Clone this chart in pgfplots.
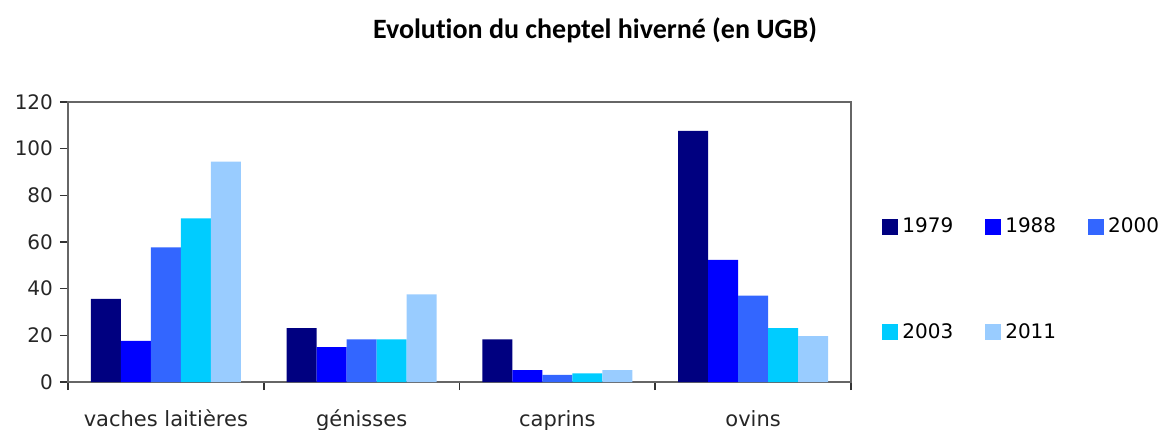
\documentclass[border=0pt]{standalone}
\usepackage{pgfplots}
\pgfplotsset{compat=1.18}
\usepackage{fontspec}
\setmainfont{DejaVu Sans}
\newfontfamily\titlefont[Ligatures=NoCommon]{Carlito}
\definecolor{c79}{HTML}{000080}
\definecolor{c88}{HTML}{0000FF}
\definecolor{c00}{HTML}{3366FF}
\definecolor{c03}{HTML}{00CCFF}
\definecolor{c11}{HTML}{99CCFF}
\definecolor{frame}{HTML}{666666}
\begin{document}
\begin{tikzpicture}
\useasboundingbox (-34pt,-23.5pt) rectangle (547.5pt,191pt);
\begin{axis}[
  scale only axis,
  width=391.5pt, height=140pt,
  ybar=0pt, bar width=0.1533,
  xmin=-0.5, xmax=3.5,
  ymin=0, ymax=120,
  ytick={0,20,...,120},
  xtick={-0.5,0.5,1.5,2.5,3.5},
  x tick label as interval,
  xticklabels={vaches laitières, génisses, caprins, ovins},
  xtick pos=bottom, ytick pos=left,
  tick align=outside,
  major tick length=4pt,
  tick style={black!80, line width=0.8pt},
  axis line style={frame, line width=0.9pt},
  tick label style={font=\fontsize{10}{12}\selectfont, text=black!85},
  /pgf/number format/assume math mode=true,
  xticklabel style={yshift=-6.5pt, font=\fontsize{10.5}{12}\selectfont},
  legend columns=3,
  legend style={draw=none, fill=none, inner sep=0pt,
    at={(1.0396,0.366)}, anchor=west,
    font=\fontsize{10}{12}\selectfont,
    /tikz/every even column/.append style={column sep=14pt},
    row sep=40pt},
  legend image code/.code={\fill[#1, draw=none] (0pt,-4pt) rectangle (8pt,4pt);},
  every axis plot/.append style={draw=none},
]
\addplot[fill=c79] coordinates {(0,35.6) (1,23.1) (2,18.3) (3,107.6)};
\addplot[fill=c88] coordinates {(0,17.6) (1,14.9) (2,5.1) (3,52.3)};
\addplot[fill=c00] coordinates {(0,57.7) (1,18.3) (2,3.1) (3,37.0)};
\addplot[fill=c03] coordinates {(0,70.1) (1,18.3) (2,3.7) (3,23.1)};
\addplot[fill=c11] coordinates {(0,94.4) (1,37.6) (2,5.1) (3,19.7)};
\legend{1979,1988,2000,2003,2011}
\end{axis}
\node[font=\titlefont\bfseries\fontsize{14}{16}\selectfont] at (263.5pt,176pt) {Evolution du cheptel hiverné (en UGB)};
\end{tikzpicture}
\end{document}
